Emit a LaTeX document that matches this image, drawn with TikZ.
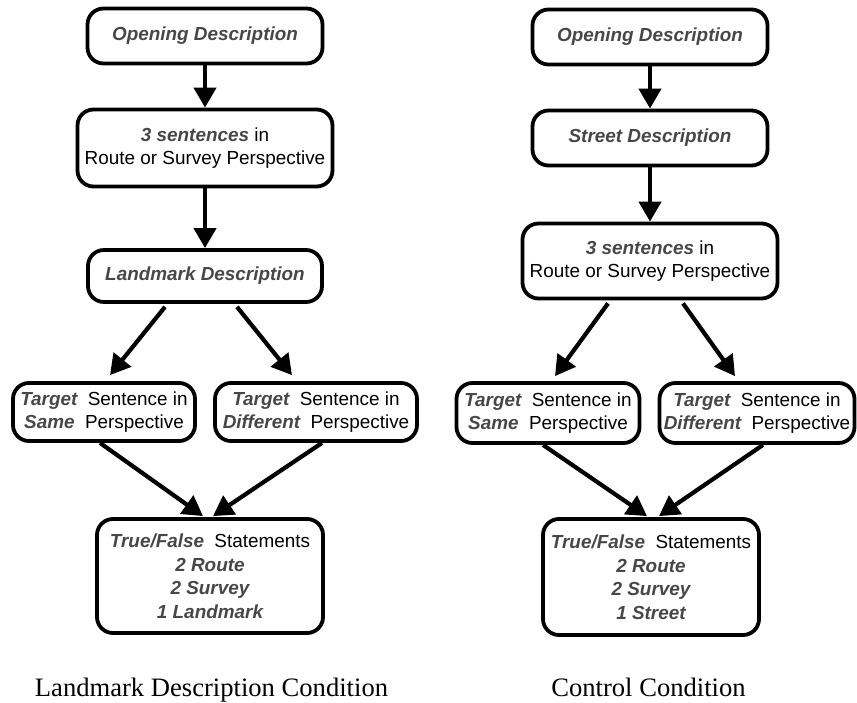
\documentclass[tikz,border=0pt]{standalone}
\usepackage{fontspec}
\setmainfont{Liberation Sans}
\newfontfamily\capfont{Liberation Serif}
\usetikzlibrary{arrows.meta}
\definecolor{hlgray}{HTML}{474747}
\newcommand\bi[1]{\textcolor{hlgray}{\bfseries\itshape #1}}
\newcommand\gp{\hspace{0.55em}}
\begin{document}
\begin{tikzpicture}[x=1pt,y=-1pt,
  box/.style={draw, line width=3.8pt, rounded corners=16pt, align=center, inner sep=0pt,
    font=\fontsize{18.9}{23.5}\selectfont},
  link/.style={line width=4.2pt, -{Triangle[length=20pt,width=22pt]}},
  caption/.style={font=\capfont\fontsize{26.6}{30}\selectfont, anchor=base}]
\useasboundingbox (0,0) rectangle (857,703);

% left column
\node[box, minimum width=235pt, minimum height=55pt] (lo) at (205,36) {\bi{Opening Description}};
\node[box, minimum width=255pt, minimum height=77pt] (ls) at (205,148) {\bi{3 sentences} in\\Route or Survey Perspective};
\node[box, minimum width=234pt, minimum height=52pt] (ll) at (205,276) {\bi{Landmark Description}};
\node[box, minimum width=182pt, minimum height=58pt] (lt1) at (104,412) {\bi{Target}\gp Sentence in\\\bi{Same}\gp Perspective};
\node[box, minimum width=202pt, minimum height=58pt] (lt2) at (316,412) {\bi{Target}\gp Sentence in\\\bi{Different}\gp Perspective};
\node[box, minimum width=226pt, minimum height=114pt] (lf) at (210,576) {\bi{True/False}\gp Statements\\\bi{2 Route}\\\bi{2 Survey}\\\bi{1 Landmark}};

\draw[link] (lo) -- (ls);
\draw[link] (ls) -- (ll);
\draw[link] ([xshift=-40pt,yshift=-3pt]ll.south) -- ([xshift=6pt,yshift=6pt]lt1.north);
\draw[link] ([xshift=32pt,yshift=-3pt]ll.south) -- ([xshift=-24pt,yshift=6pt]lt2.north);
\draw[link] ([xshift=-4pt]lt1.south) -- ([xshift=-7pt,yshift=1pt]lf.north);
\draw[link] ([xshift=6pt]lt2.south) -- ([xshift=3pt,yshift=1pt]lf.north);

% right column
\node[box, minimum width=235pt, minimum height=55pt] (ro) at (650,37) {\bi{Opening Description}};
\node[box, minimum width=235pt, minimum height=55pt] (rs) at (650,138) {\bi{Street Description}};
\node[box, minimum width=255pt, minimum height=75pt] (r3) at (650,261) {\bi{3 sentences} in\\Route or Survey Perspective};
\node[box, minimum width=183pt, minimum height=60pt] (rt1) at (548,413) {\bi{Target}\gp Sentence in\\\bi{Same}\gp Perspective};
\node[box, minimum width=195pt, minimum height=60pt] (rt2) at (757,413) {\bi{Target}\gp Sentence in\\\bi{Different}\gp Perspective};
\node[box, minimum width=216pt, minimum height=116pt] (rf) at (651,577) {\bi{True/False}\gp Statements\\\bi{2 Route}\\\bi{2 Survey}\\\bi{1 Street}};

\draw[link] (ro) -- (rs);
\draw[link] (rs) -- (r3);
\draw[link] ([xshift=-42pt,yshift=-3pt]r3.south) -- ([xshift=7pt,yshift=5pt]rt1.north);
\draw[link] ([xshift=33pt,yshift=-3pt]r3.south) -- ([xshift=-22pt,yshift=5pt]rt2.north);
\draw[link] ([xshift=-5pt]rt1.south) -- ([xshift=-4pt,yshift=1pt]rf.north);
\draw[link] ([xshift=6pt]rt2.south) -- ([xshift=8pt,yshift=1pt]rf.north);

% captions
\node[caption] (cl) at (211.5,696) {Landmark Description Condition};
\node[caption] (cr) at (648.5,696) {Control Condition};
\end{tikzpicture}
\end{document}
